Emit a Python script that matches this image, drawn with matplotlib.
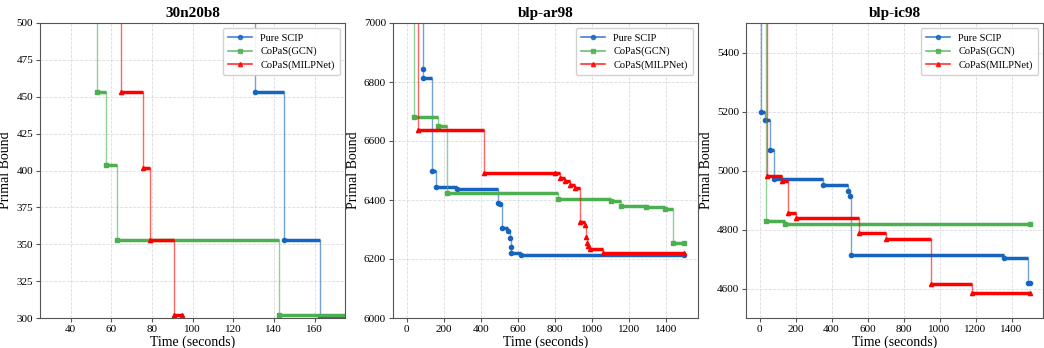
import matplotlib
matplotlib.use("Agg")
import matplotlib.pyplot as plt
from matplotlib.lines import Line2D

plt.rcParams['font.family'] = ['Liberation Serif', 'DejaVu Serif']

# series labels / colours
labels = ['Pure SCIP', 'CoPaS(GCN)', 'CoPaS(MILPNet)']
colors = ['#1565C0', '#4CAF50', '#FF0000']
markers = ['o', 's', '^']

# --- 30n20b8 ---
p1_scip_t = [120, 130.7, 145, 162.7, 176]
p1_scip_v = [600, 453, 353, 301, 301]
p1_gcn_t = [45, 52.9, 57.5, 62.7, 142.4, 176]
p1_gcn_v = [600, 453, 404, 353, 302, 302]
p1_milp_t = [55, 64.8, 75.5, 79, 91, 95]
p1_milp_v = [600, 453, 402, 353, 302, 302]

# --- blp-ar98 ---
p2_scip_t = [60, 86, 88, 138, 158, 270, 495, 505, 515, 549, 560, 562, 565, 620, 1500]
p2_scip_v = [7400, 6843, 6812, 6500, 6443, 6438, 6390, 6385, 6305, 6295, 6270, 6240, 6220, 6215, 6215]
p2_gcn_t = [20, 40, 171, 216, 819, 1107, 1161, 1296, 1395, 1440, 1500]
p2_gcn_v = [7400, 6680, 6650, 6425, 6405, 6395, 6380, 6375, 6370, 6255, 6255]
p2_milp_t = [30, 58, 419, 800, 830, 855, 882, 909, 935, 963, 968, 972, 980, 990, 1062, 1500]
p2_milp_v = [7400, 6637, 6493, 6490, 6475, 6465, 6450, 6440, 6327, 6315, 6275, 6255, 6243, 6233, 6220, 6220]

# --- blp-ic98 ---
p3_scip_t = [0, 11, 31, 58, 78, 350, 489, 500, 510, 1360, 1491, 1500]
p3_scip_v = [5800, 5200, 5172, 5070, 4972, 4950, 4930, 4912, 4712, 4704, 4618, 4618]
p3_gcn_t = [0, 38, 144, 1500]
p3_gcn_v = [5800, 4830, 4817, 4817]
p3_milp_t = [0, 40, 125, 156, 202, 552, 701, 955, 1182, 1500]
p3_milp_v = [5800, 4983, 4965, 4857, 4840, 4787, 4768, 4616, 4585, 4585]

panels = [
    ('30n20b8', [(p1_scip_t, p1_scip_v), (p1_gcn_t, p1_gcn_v), (p1_milp_t, p1_milp_v)],
     (25, 175), (300, 500), list(range(40, 161, 20)), list(range(300, 501, 25))),
    ('blp-ar98', [(p2_scip_t, p2_scip_v), (p2_gcn_t, p2_gcn_v), (p2_milp_t, p2_milp_v)],
     (-75, 1575), (6000, 7000), list(range(0, 1401, 200)), list(range(6000, 7001, 200))),
    ('blp-ic98', [(p3_scip_t, p3_scip_v), (p3_gcn_t, p3_gcn_v), (p3_milp_t, p3_milp_v)],
     (-75, 1575), (4500, 5500), list(range(0, 1401, 200)), list(range(4600, 5401, 200))),
]

fig = plt.figure(figsize=(10.44, 3.48), dpi=100)
positions = [
    [40 / 1044, 30 / 348, 305 / 1044, 295 / 348],
    [393 / 1044, 30 / 348, 305 / 1044, 295 / 348],
    [746 / 1044, 30 / 348, 297 / 1044, 295 / 348],
]

for pos, (title, series, xlim, ylim, xticks, yticks) in zip(positions, panels):
    ax = fig.add_axes(pos)
    for (t, v), c, m in zip(series, colors, markers):
        # thin step line (vertical jumps)
        ax.plot(t, v, drawstyle='steps-post', color=c, lw=1.0, alpha=0.6)
        # dense plateaus
        ax.hlines(v[:-1], t[:-1], t[1:], color=c, lw=2.5)
        ax.plot(t, v, ls='none', marker=m, color=c, ms=3)
    ax.set_xlim(*xlim)
    ax.set_ylim(*ylim)
    ax.set_xticks(xticks)
    ax.set_yticks(yticks)
    ax.grid(True, ls='--', color='#cccccc', lw=0.6, alpha=0.7)
    ax.set_axisbelow(True)
    for s in ax.spines.values():
        s.set_color('#555555')
    ax.tick_params(labelsize=8, color='#555555', length=3, pad=2)
    ax.set_title(title, fontsize=11, fontweight='bold', pad=4)
    ax.set_xlabel('Time (seconds)', fontsize=10, labelpad=1)
    ax.set_ylabel('Primal Bound', fontsize=10, labelpad=3)
    handles = [Line2D([0], [0], color=c, marker=m, ms=3, lw=1.2, alpha=0.8)
               for c, m in zip(colors, markers)]
    ax.legend(handles, labels, loc='upper right', fontsize=7.5, framealpha=0.9,
              handlelength=2.3, borderpad=0.5, labelspacing=0.4)

fig.savefig('out.png', dpi=100)
